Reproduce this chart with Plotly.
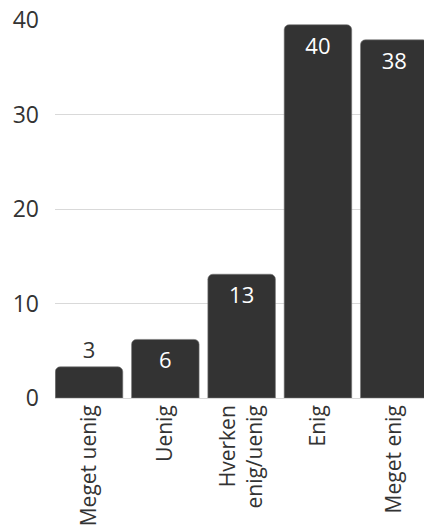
import plotly.graph_objects as go

categories = ["Meget uenig", "Uenig", "Hverken<br>enig/uenig", "Enig", "Meget enig"]
values = [3.3, 6.2, 13.1, 39.5, 37.9]
text_positions = ["outside", "inside", "inside", "inside", "inside"]
tick_values = [0, 10, 20, 30, 40]

font_family = "Open Sans"
dark = "#333333"

fig = go.Figure(
    go.Bar(
        x=categories,
        y=values,
        text=[f"{v:.0f}" for v in values],
        textposition=text_positions,
        insidetextanchor="end",
        insidetextfont=dict(color="white", size=22, family=font_family),
        outsidetextfont=dict(color=dark, size=22, family=font_family),
        cliponaxis=False,
        marker=dict(color=dark, line=dict(color="#777777", width=0.6)),
    )
)

fig.update_layout(
    width=424,
    height=531,
    margin=dict(l=55, r=0, t=20, b=133),
    paper_bgcolor="white",
    plot_bgcolor="white",
    font=dict(family=font_family, size=22, color=dark),
    bargap=0.115,
    barcornerradius=5,
    showlegend=False,
)
fig.update_xaxes(
    range=[-0.446, 4.39],
    tickangle=-90,
    tickfont=dict(size=21, color=dark, family=font_family),
    showgrid=False,
    showline=False,
    ticks="",
    automargin=False,
    ticklabelstandoff=2,
)
fig.update_yaxes(
    range=[0, 40],
    tickvals=tick_values,
    tickfont=dict(size=23, color=dark, family=font_family),
    showgrid=True,
    gridcolor="#d9d9d9",
    gridwidth=1,
    zeroline=True,
    zerolinecolor="#d9d9d9",
    zerolinewidth=1,
    ticks="",
    ticklabelstandoff=15,
    automargin=False,
)

fig.write_html(
    "out.html",
    config={"displayModeBar": False},
    post_script="document.body.style.margin='0';document.body.style.overflow='hidden';",
)
